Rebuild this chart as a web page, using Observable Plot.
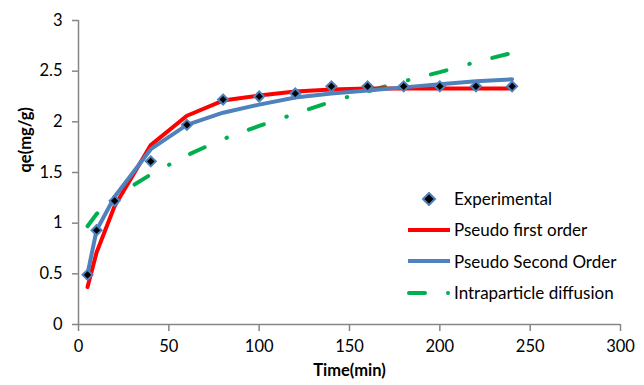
<!DOCTYPE html>
<html>
<head>
<meta charset="utf-8">
<script src="https://cdn.jsdelivr.net/npm/d3@7"></script>
<script src="https://cdn.jsdelivr.net/npm/@observablehq/plot@0.6"></script>
<style>
  body { margin: 0; background: #fff; }
  #wrap { position: relative; width: 644px; height: 385px; font-family: "Lato", "Liberation Sans", sans-serif; }
  #legend { position: absolute; left: 407px; top: 183px; }
  .row { display: flex; align-items: center; height: 31.3px; font-size: 17px; color: #000; }
  .row svg { display: block; margin-right: 2px; }
</style>
</head>
<body>
<div id="wrap"><div id="chart"></div><div id="legend"></div></div>
<script>
const times = [5, 10, 20, 40, 60, 80, 100, 120, 140, 160, 180, 200, 220, 240];
const experimental = [0.49, 0.93, 1.22, 1.61, 1.97, 2.22, 2.25, 2.28, 2.35, 2.35, 2.35, 2.35, 2.35, 2.35];
const pseudoFirst = [0.37, 0.71, 1.17, 1.77, 2.06, 2.21, 2.26, 2.30, 2.32, 2.33, 2.33, 2.33, 2.33, 2.33];
const pseudoSecond = [0.50, 0.93, 1.26, 1.73, 1.97, 2.09, 2.17, 2.24, 2.28, 2.31, 2.34, 2.37, 2.40, 2.42];
const intraparticle = [0.97, 1.09, 1.26, 1.48, 1.67, 1.83, 1.96, 2.08, 2.20, 2.30, 2.40, 2.49, 2.59, 2.68];

const seriesNames = ["Experimental", "Pseudo first order", "Pseudo Second Order", "Intraparticle diffusion"];
const xTicks = [0, 50, 100, 150, 200, 250, 300];
const yTicks = [0, 0.5, 1, 1.5, 2, 2.5, 3];
const xLabel = "Time(min)";
const yLabel = "qe(mg/g)";

const colors = { red: "#ff0000", blue: "#4f81bd", green: "#00b050", axis: "#868686" };
const greenDash = "16,23.75,0.5,23.25";

const rows = (vals) => times.map((t, i) => ({ t, v: vals[i] }));

const chart = Plot.plot({
  width: 644,
  height: 385,
  marginLeft: 78,
  marginRight: 24,
  marginTop: 20,
  marginBottom: 61,
  style: { fontFamily: "Lato, 'Liberation Sans', sans-serif", fontSize: "16.5px", background: "#fff", color: "#000" },
  x: { domain: [0, 300] },
  y: { domain: [0, 3] },
  marks: [
    Plot.ruleX([0], { stroke: colors.axis, strokeWidth: 1.5 }),
    Plot.ruleY([0], { stroke: colors.axis, strokeWidth: 1.5 }),
    Plot.axisX({ ticks: xTicks, tickSize: 7, tickPadding: 9, stroke: colors.axis, strokeWidth: 1.5, fill: "#000", tickFormat: d => String(d), label: null }),
    Plot.axisY({ ticks: yTicks, tickSize: 6, tickPadding: 10, stroke: colors.axis, strokeWidth: 1.5, fill: "#000", tickFormat: d => String(d), label: null }),
    Plot.line(rows(intraparticle), { x: "t", y: "v", stroke: colors.green, strokeWidth: 4, strokeDasharray: greenDash, strokeLinecap: "round" }),
    Plot.line(rows(pseudoFirst), { x: "t", y: "v", stroke: colors.red, strokeWidth: 4 }),
    Plot.line(rows(pseudoSecond), { x: "t", y: "v", stroke: colors.blue, strokeWidth: 4 }),
    Plot.dot(rows(experimental), { x: "t", y: "v", symbol: "diamond2", r: 4.5, fill: "#000", stroke: colors.blue, strokeWidth: 2 }),
    Plot.text([xLabel], { frameAnchor: "bottom", dy: 51, fontWeight: "bold", fontSize: 16.5, fill: "#000" }),
    Plot.text([yLabel], { frameAnchor: "left", dx: -53, rotate: -90, fontWeight: "bold", fontSize: 16.5, fill: "#000" })
  ]
});
document.getElementById("chart").appendChild(chart);

// Legend
const swatches = [
  `<svg width="45" height="14"><path d="M22,1 L28,7 L22,13 L16,7 Z" fill="#000" stroke="${colors.blue}" stroke-width="2"/></svg>`,
  `<svg width="45" height="14"><line x1="1" y1="7" x2="43" y2="7" stroke="${colors.red}" stroke-width="4"/></svg>`,
  `<svg width="45" height="14"><line x1="1" y1="7" x2="43" y2="7" stroke="${colors.blue}" stroke-width="4"/></svg>`,
  `<svg width="45" height="14"><line x1="2" y1="7" x2="18" y2="7" stroke="${colors.green}" stroke-width="4" stroke-linecap="round"/><circle cx="41" cy="7" r="2" fill="${colors.green}"/></svg>`
];
const legend = document.getElementById("legend");
seriesNames.forEach((name, i) => {
  const row = document.createElement("div");
  row.className = "row";
  row.innerHTML = swatches[i] + `<span>${name}</span>`;
  legend.appendChild(row);
});
</script>
</body>
</html>
